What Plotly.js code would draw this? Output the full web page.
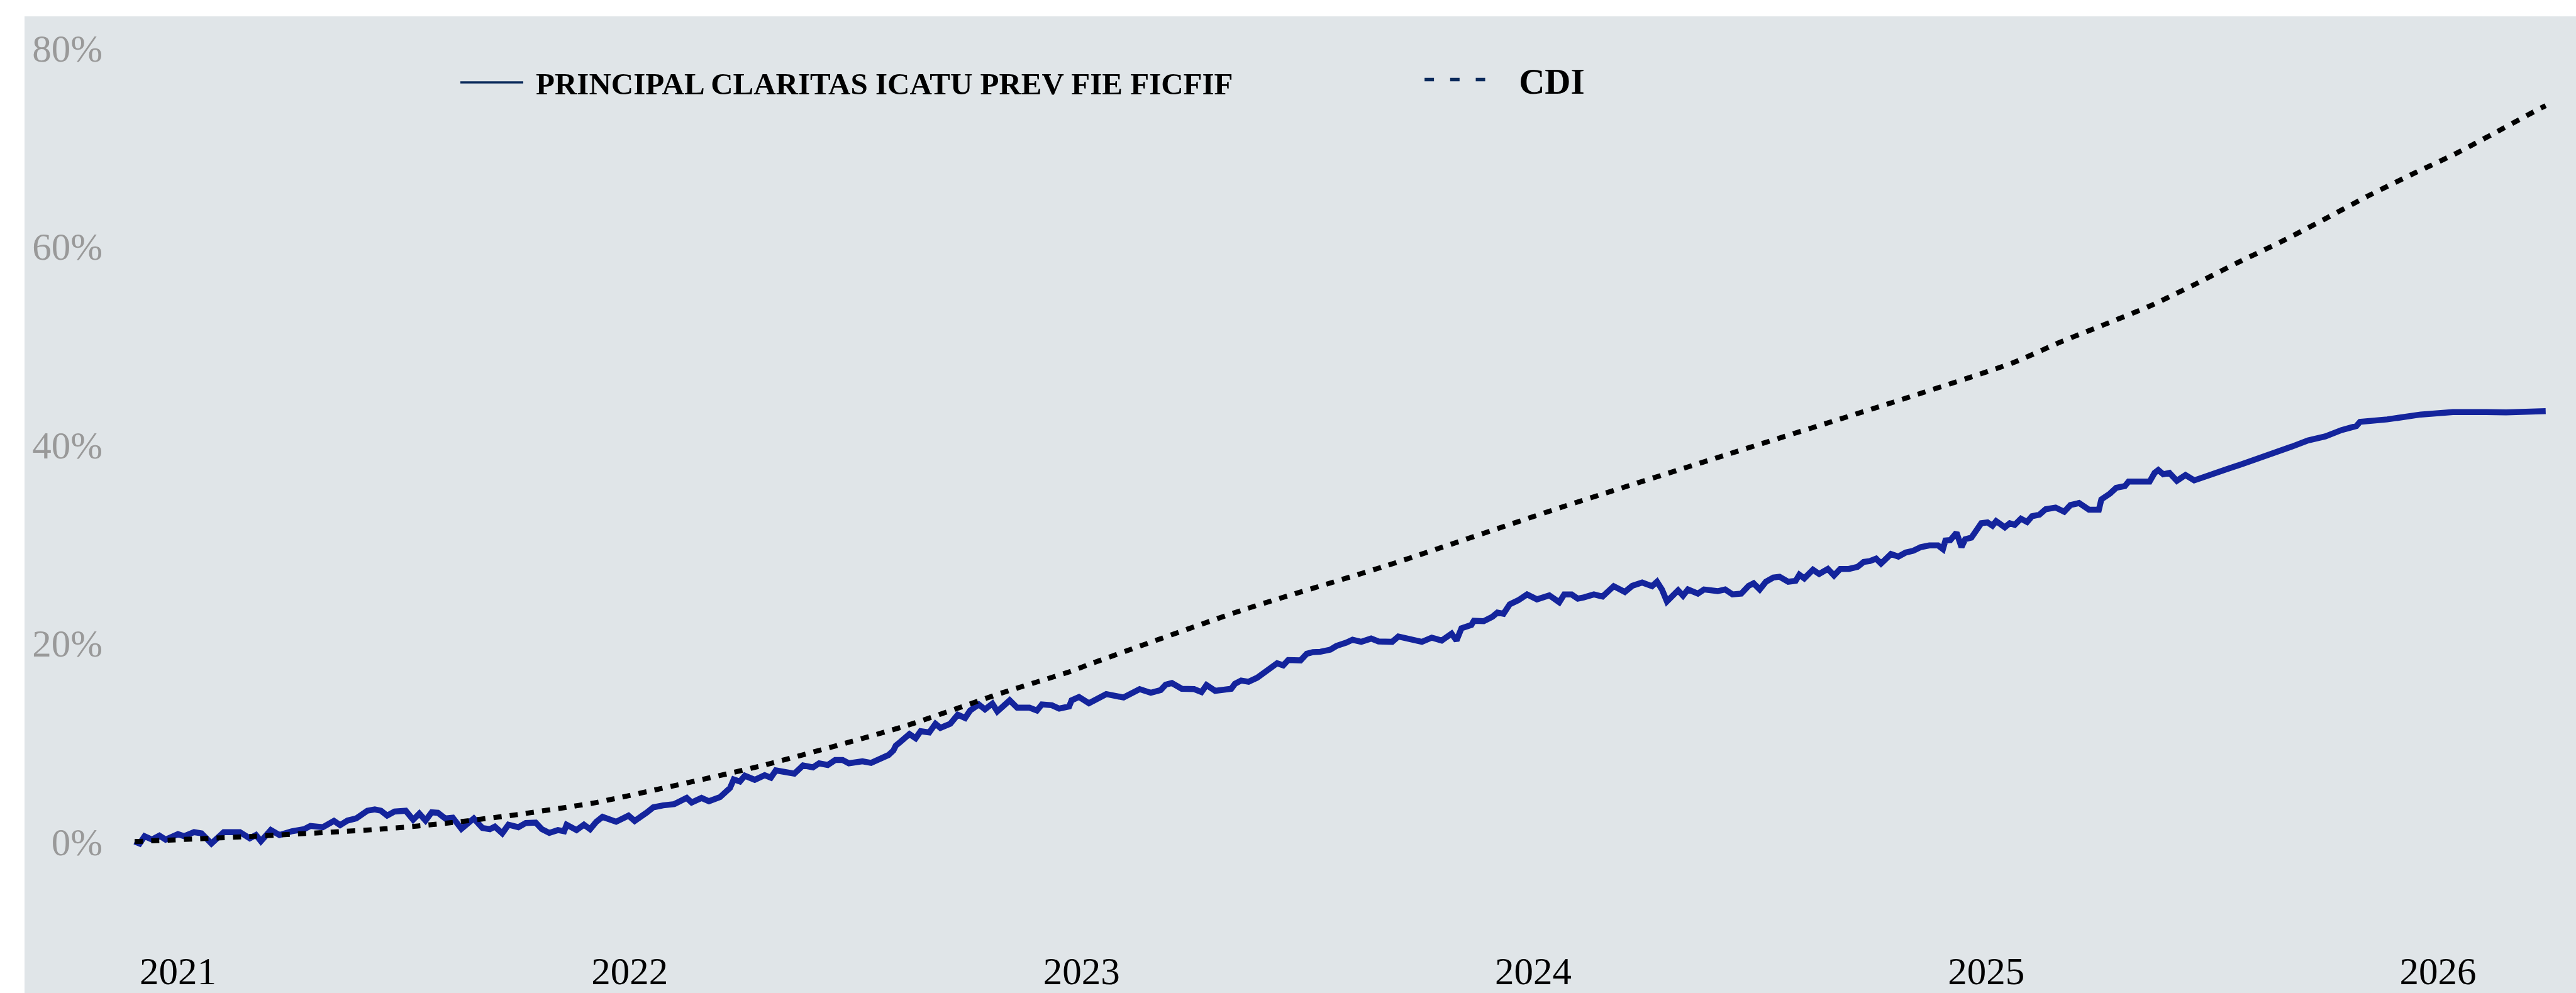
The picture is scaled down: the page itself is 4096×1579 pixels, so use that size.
<!DOCTYPE html>
<html>
<head>
<meta charset="utf-8">
<script src="https://cdn.plot.ly/plotly-3.0.1.min.js"></script>
<style>
  html, body { margin: 0; padding: 0; background: #ffffff; width: 4096px; height: 1579px; overflow: hidden; }
  #chart { position: absolute; left: 39px; top: 26px; width: 4057px; height: 1553px; }
</style>
</head>
<body>
<div id="chart"></div>
<script>
// ---- Data ----
const seriesNames = ['PRINCIPAL CLARITAS ICATU PREV FIE FICFIF', 'CDI'];

const fundDates = [
 '2020-11-27','2020-12-01','2020-12-05','2020-12-11','2020-12-17','2020-12-22',
 '2021-01-01','2021-01-06','2021-01-14','2021-01-20','2021-01-28','2021-02-07','2021-02-20','2021-02-28',
 '2021-03-05','2021-03-09','2021-03-17','2021-03-24','2021-04-03','2021-04-13','2021-04-18','2021-04-28',
 '2021-05-07','2021-05-12','2021-05-18','2021-05-25','2021-06-03','2021-06-09','2021-06-14','2021-06-19',
 '2021-06-25','2021-07-04','2021-07-10','2021-07-15','2021-07-20','2021-07-25','2021-07-30','2021-08-05',
 '2021-08-11','2021-08-18','2021-08-28','2021-09-04','2021-09-10','2021-09-14','2021-09-20','2021-09-25',
 '2021-10-03','2021-10-09','2021-10-17','2021-10-22','2021-10-28','2021-11-04','2021-11-09','2021-11-11',
 '2021-11-19','2021-11-25','2021-11-30','2021-12-05','2021-12-10','2021-12-21','2021-12-31',
 '2022-01-05','2022-01-15','2022-01-20','2022-01-28','2022-02-06','2022-02-16','2022-02-20','2022-02-28',
 '2022-03-06','2022-03-15','2022-03-23','2022-03-26','2022-03-31','2022-04-04','2022-04-12','2022-04-20',
 '2022-04-25','2022-04-29','2022-05-14','2022-05-21','2022-05-29','2022-06-03','2022-06-10','2022-06-16',
 '2022-06-22','2022-06-27','2022-07-08','2022-07-15','2022-07-23','2022-07-29','2022-08-02','2022-08-04',
 '2022-08-08','2022-08-15','2022-08-20','2022-08-24','2022-08-31','2022-09-05','2022-09-09','2022-09-17',
 '2022-09-23','2022-09-29','2022-10-03','2022-10-10','2022-10-15','2022-10-21','2022-10-25','2022-11-04',
 '2022-11-10','2022-11-20','2022-11-26','2022-11-30','2022-12-08','2022-12-14','2022-12-22','2022-12-24',
 '2022-12-30','2023-01-07','2023-01-21','2023-02-04','2023-02-17','2023-02-26','2023-03-06','2023-03-10',
 '2023-03-15','2023-03-23','2023-04-02','2023-04-08','2023-04-12','2023-04-19','2023-05-02','2023-05-05',
 '2023-05-10','2023-05-16','2023-05-23','2023-05-28','2023-06-03','2023-06-08','2023-06-13','2023-06-17',
 '2023-06-27','2023-07-02','2023-07-07','2023-07-13','2023-07-21','2023-07-26','2023-08-03','2023-08-08',
 '2023-08-15','2023-08-23','2023-08-29','2023-09-09','2023-09-14','2023-09-25','2023-10-03','2023-10-11',
 '2023-10-19','2023-10-27','2023-10-31','2023-11-04','2023-11-12','2023-11-14','2023-11-22','2023-11-29',
 '2023-12-03','2023-12-08','2023-12-13','2023-12-20','2023-12-27','2024-01-04','2024-01-09','2024-01-14',
 '2024-01-22','2024-01-26','2024-02-01','2024-02-06','2024-02-11','2024-02-19','2024-02-26','2024-03-06',
 '2024-03-15','2024-03-21','2024-03-29','2024-04-06','2024-04-10','2024-04-14','2024-04-18','2024-04-27',
 '2024-05-01','2024-05-05','2024-05-13','2024-05-18','2024-05-29','2024-06-04','2024-06-10','2024-06-17',
 '2024-06-23','2024-06-27','2024-07-02','2024-07-07','2024-07-13','2024-07-18','2024-07-25','2024-07-31',
 '2024-08-03','2024-08-07','2024-08-14','2024-08-19','2024-08-26','2024-08-31','2024-09-05','2024-09-12',
 '2024-09-19','2024-09-24','2024-09-29','2024-10-04','2024-10-08','2024-10-16','2024-10-22','2024-10-28',
 '2024-11-03','2024-11-09','2024-11-16','2024-11-23','2024-11-27','2024-11-29','2024-12-03','2024-12-08',
 '2024-12-12','2024-12-15','2024-12-20','2024-12-24','2024-12-28','2025-01-02','2025-01-06','2025-01-09',
 '2025-01-16','2025-01-20','2025-01-24','2025-01-29','2025-02-03','2025-02-07','2025-02-13','2025-02-18',
 '2025-02-26','2025-03-05','2025-03-10','2025-03-17','2025-03-25','2025-04-02','2025-04-04','2025-04-11',
 '2025-04-16','2025-04-23','2025-04-26','2025-05-05','2025-05-13','2025-05-17','2025-05-20','2025-05-24',
 '2025-05-29','2025-06-04','2025-06-11','2025-06-18','2025-07-01','2025-07-14','2025-07-27','2025-08-10',
 '2025-08-23','2025-09-05','2025-09-18','2025-10-02','2025-10-15','2025-10-27','2025-10-30','2025-11-21',
 '2025-12-18','2026-01-13','2026-02-09','2026-02-25','2026-03-29'
];
const fundValues = [
 0.0,-0.2,0.54,0.2,0.6,0.2,
 0.75,0.54,0.95,0.83,-0.2,0.95,0.95,0.33,
 0.66,0.04,1.16,0.66,1.04,1.25,1.58,1.45,
 2.08,1.66,2.12,2.33,3.11,3.24,3.11,2.62,
 3.03,3.11,2.2,2.82,2.12,2.95,2.9,2.33,
 2.41,1.29,2.33,1.37,1.25,1.5,0.83,1.7,
 1.45,1.87,1.91,1.25,0.87,1.16,1.04,1.7,
 1.16,1.7,1.25,2.0,2.49,2.0,2.62,
 2.08,2.95,3.45,3.65,3.78,4.4,3.94,4.4,
 4.07,4.49,5.4,6.27,6.06,6.64,6.23,6.69,
 6.44,7.18,6.85,7.68,7.48,7.89,7.72,8.22,
 8.22,7.89,8.1,7.93,8.43,8.72,9.18,9.68,
 10.09,10.84,10.42,11.13,11.0,11.88,11.46,11.88,
 12.79,12.46,13.21,13.83,13.33,13.91,13.12,14.24,
 13.5,13.5,13.21,13.83,13.75,13.41,13.62,14.24,
 14.58,13.95,14.87,14.53,15.37,15.0,15.28,15.82,
 15.99,15.41,15.37,15.07,15.78,15.2,15.41,15.91,
 16.24,16.11,16.53,17.03,17.44,17.98,17.77,18.31,
 18.27,18.94,19.1,19.14,19.35,19.73,20.06,20.35,
 20.14,20.47,20.18,20.14,20.68,20.39,20.14,20.56,
 20.27,20.97,20.27,21.51,21.84,22.26,22.22,22.67,
 23.09,22.97,23.92,24.34,24.92,24.42,24.63,24.83,
 24.13,24.92,24.92,24.5,24.63,24.92,24.71,25.75,
 25.17,25.79,26.12,25.75,26.2,25.42,24.21,25.33,
 24.79,25.42,25.0,25.42,25.25,25.42,24.92,25.0,
 25.79,26.04,25.42,26.2,26.62,26.7,26.2,26.29,
 26.91,26.54,27.41,26.99,27.49,26.83,27.49,27.49,
 27.7,28.2,28.28,28.53,28.03,28.99,28.74,29.15,
 29.32,29.69,29.86,29.86,29.48,30.36,30.4,31.15,
 29.69,30.48,30.65,31.31,32.1,32.18,31.85,32.31,
 31.69,32.1,31.94,32.56,32.23,32.81,32.97,33.51,
 33.68,33.26,33.93,34.14,33.47,33.47,34.5,35.09,
 35.67,35.84,36.3,36.3,36.3,37.17,37.46,37.04,
 37.17,36.38,36.96,36.42,37.04,37.54,38.08,38.66,
 39.24,39.83,40.45,40.86,41.49,41.9,42.32,42.57,
 43.06,43.31,43.31,43.27,43.4
];

const cdiDates = [
 '2020-11-27','2021-03-04','2021-06-18','2021-08-10','2021-10-01','2021-11-21','2021-12-05',
 '2022-04-16','2022-08-11','2022-10-29','2022-12-23','2023-01-07','2023-05-10','2023-09-04',
 '2024-01-25','2024-06-07','2024-10-18','2025-01-23','2025-03-02','2025-04-07','2025-05-13',
 '2025-06-18','2025-07-22','2025-08-27','2025-09-30','2025-11-05','2025-12-11','2026-01-15',
 '2026-02-18','2026-03-25','2026-03-29'
];
const cdiValues = [
 0.0,0.54,1.29,1.91,2.7,3.65,3.94,
 7.6,11.63,15.0,17.15,17.86,23.3,27.8,
 33.76,39.08,44.31,48.3,50.37,52.16,53.99,
 56.15,58.31,60.47,62.67,65.07,67.28,69.35,
 71.6,73.96,74.2
];

const yTickValues = [0, 20, 40, 60, 80];
const yTickLabels = ['0%', '20%', '40%', '60%', '80%'];
const xTickValues = ['2021-01-01','2022-01-01','2023-01-01','2024-01-01','2025-01-01','2026-01-01'];
const xTickLabels = ['2021','2022','2023','2024','2025','2026'];

// ---- Styles ----
const BG = '#e0e5e8';
const FUND_COLOR = '#14249c';
const LEGEND_NAVY = '#0c2b5c';
const FONT = '"Liberation Serif", "Times New Roman", Times, serif';

const traces = [
  { x: fundDates, y: fundValues, type: 'scatter', mode: 'lines', name: seriesNames[0],
    line: { color: FUND_COLOR, width: 9.5 }, showlegend: false, hoverinfo: 'skip' },
  { x: cdiDates, y: cdiValues, type: 'scatter', mode: 'lines', name: seriesNames[1],
    line: { color: '#000000', width: 8, dash: '13px,13px', shape: 'spline', smoothing: 0.6 },
    showlegend: false, hoverinfo: 'skip' },
  // legend-only entries (the reference legend uses navy symbols)
  { x: [null], y: [null], type: 'scatter', mode: 'lines', name: seriesNames[0],
    line: { color: LEGEND_NAVY, width: 3.5, dash: '100px,400px' }, legend: 'legend', showlegend: true },
  { x: [null], y: [null], type: 'scatter', mode: 'lines', name: seriesNames[1],
    line: { color: LEGEND_NAVY, width: 5.5, dash: '15px,25.7px,15px,25.7px,15px,400px' },
    legend: 'legend2', showlegend: true }
];

const layout = {
  width: 4057, height: 1553,
  margin: { l: 130, r: 0, t: 0, b: 76, pad: 0 },
  paper_bgcolor: BG, plot_bgcolor: BG,
  font: { family: FONT, color: '#000000' },
  showlegend: true,
  xaxis: {
    type: 'date',
    range: ['2020-11-04 01:40', '2026-04-22 12:00'],
    tickvals: xTickValues, ticktext: xTickLabels,
    showgrid: false, zeroline: false, showline: false, ticks: '',
    tickfont: { family: FONT, size: 61, color: '#000000' }
  },
  yaxis: {
    range: [-10.45, 83.21],
    tickvals: yTickValues, ticktext: yTickLabels,
    showgrid: false, zeroline: false, showline: false, ticks: '',
    ticklabelstandoff: 5,
    tickfont: { family: FONT, size: 61, color: '#999999' }
  },
  legend: {
    x: 0.1421, xanchor: 'left', y: 0.9548, yanchor: 'top',
    bgcolor: 'rgba(0,0,0,0)', borderwidth: 0, itemwidth: 115,
    font: { family: FONT, size: 49, color: '#000000', weight: 700 }
  },
  legend2: {
    x: 0.5325, xanchor: 'left', y: 0.9615, yanchor: 'top',
    bgcolor: 'rgba(0,0,0,0)', borderwidth: 0, itemwidth: 145,
    font: { family: FONT, size: 57, color: '#000000', weight: 700 }
  }
};

Plotly.newPlot('chart', traces, layout, { displayModeBar: false, staticPlot: true });
</script>
</body>
</html>
